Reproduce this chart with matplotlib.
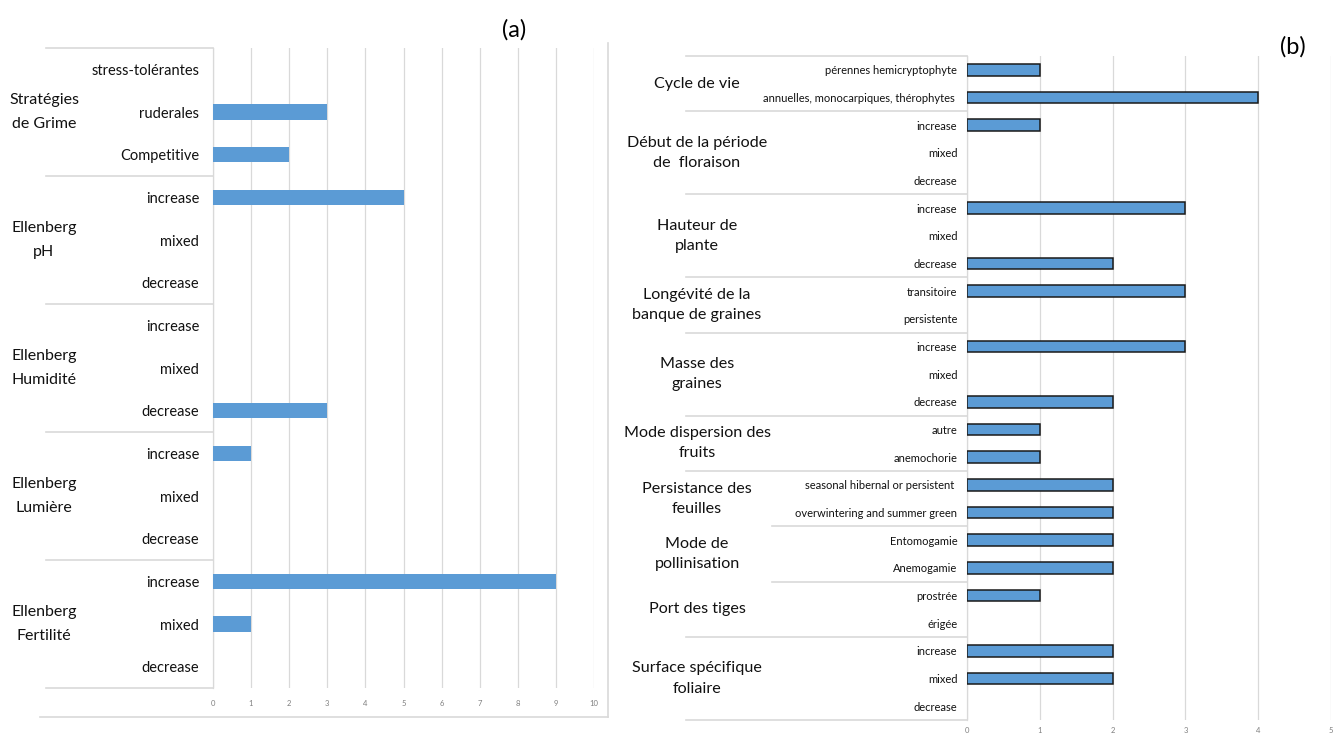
import matplotlib
matplotlib.use('Agg')
import matplotlib.pyplot as plt
import matplotlib.transforms as mtransforms
from matplotlib.lines import Line2D

plt.rcParams['font.family'] = ['Lato', 'DejaVu Sans']

# panel (a)
groups_a = ['Stratégies\nde Grime', 'Ellenberg\npH', 'Ellenberg\nHumidité',
            'Ellenberg\nLumière', 'Ellenberg\nFertilité']
cats_a = [['stress-tolérantes', 'ruderales', 'Competitive'],
          ['increase', 'mixed', 'decrease'],
          ['increase', 'mixed', 'decrease'],
          ['increase', 'mixed', 'decrease'],
          ['increase', 'mixed', 'decrease']]
vals_a = [[0, 3, 2], [5, 0, 0], [0, 0, 3], [1, 0, 0], [9, 1, 0]]
ticks_a = list(range(0, 11))

# panel (b)
groups_b = ['Cycle de vie', 'Début de la période\nde  floraison', 'Hauteur de\nplante',
            'Longévité de la\nbanque de graines', 'Masse des\ngraines',
            'Mode dispersion des\nfruits', 'Persistance des\nfeuilles',
            'Mode de\npollinisation', 'Port des tiges', 'Surface spécifique\nfoliaire']
cats_b = [['pérennes hemicryptophyte', 'annuelles, monocarpiques, thérophytes '],
          ['increase', 'mixed', 'decrease'],
          ['increase', 'mixed', 'decrease'],
          ['transitoire', 'persistente'],
          ['increase', 'mixed', 'decrease'],
          ['autre', 'anemochorie'],
          ['seasonal hibernal or persistent ', 'overwintering and summer green'],
          ['Entomogamie', 'Anemogamie'],
          ['prostrée', 'érigée'],
          ['increase', 'mixed', 'decrease']]
vals_b = [[1, 4], [1, 0, 0], [3, 0, 2], [3, 0], [3, 0, 2], [1, 1], [2, 2], [2, 2], [1, 0], [2, 2, 0]]
ticks_b = list(range(0, 6))

W, H = 1342, 734
BLUE = '#5B9BD5'
GRID = '#D9D9D9'


def panel(ax, groups, cats, vals, ticks, cat_size, grp_size, grp_x, sep_x, sep_short, short_idx,
          bar_h, edge, cat_pad, tick_pad, grp_ls):
    labels = [c for g in cats for c in g]
    values = [v for g in vals for v in g]
    y = list(range(len(labels)))
    lws = [edge if v > 0 else 0 for v in values]
    ax.barh(y, values, height=bar_h, color=BLUE, edgecolor='#1a1a1a', linewidth=lws, zorder=3)
    ax.set_ylim(len(labels) - 0.5, -0.5)
    ax.set_xlim(ticks[0], ticks[-1])
    ax.set_xticks(ticks)
    ax.set_yticks(y)
    ax.set_yticklabels(labels, fontsize=cat_size, color='#111111')
    ax.tick_params(axis='y', length=0, pad=cat_pad)
    ax.tick_params(axis='x', length=0, pad=tick_pad, labelsize=5.5, labelcolor='#7f7f7f')
    ax.grid(axis='x', color=GRID, linewidth=0.9, zorder=0)
    for s in ['top', 'right', 'bottom']:
        ax.spines[s].set_visible(False)
    ax.spines['left'].set_color(GRID)
    ax.spines['left'].set_linewidth(0.9)

    tr = mtransforms.blended_transform_factory(ax.transAxes, ax.transData)
    start = 0
    bounds = [-0.5]
    for g, c in zip(groups, cats):
        mid = start + (len(c) - 1) / 2
        ax.text(grp_x, mid, g, transform=tr, ha='center', va='center',
                fontsize=grp_size, color='#111111', linespacing=grp_ls)
        start += len(c)
        bounds.append(start - 0.5)
    for i, b in enumerate(bounds):
        x0 = sep_short if i in short_idx else sep_x
        ax.plot([x0, 0], [b, b], transform=tr, color=GRID, linewidth=1.2, clip_on=False)


fig = plt.figure(figsize=(W / 100, H / 100), dpi=100)
ax_a = fig.add_axes([213 / W, (H - 688) / H, 381 / W, 640 / H])
ax_b = fig.add_axes([967 / W, (H - 720) / H, 364 / W, 664 / H])

panel(ax_a, groups_a, cats_a, vals_a, ticks_a, 10.5, 11.5,
      (44 - 213) / 381, (46 - 213) / 381, None, (), 0.36, 0, 10, 9, 1.95)
panel(ax_b, groups_b, cats_b, vals_b, ticks_b, 8.0, 11.6,
      (697 - 967) / 364, (686 - 967) / 364, (772 - 967) / 364, (7, 8), 0.42, 1.1, 7, 5, 1.55)

# frame of panel (a)
fig.add_artist(Line2D([608 / W, 608 / W], [(H - 43) / H, (H - 717) / H], color=GRID, linewidth=1.2))
fig.add_artist(Line2D([40 / W, 608 / W], [(H - 717) / H, (H - 717) / H], color=GRID, linewidth=1.2))

fig.text(514 / W, 1 - 30 / H, '(a)', fontsize=17, ha='center', va='center')
fig.text(1293 / W, 1 - 47 / H, '(b)', fontsize=17, ha='center', va='center')

fig.savefig('out.png', dpi=100)
